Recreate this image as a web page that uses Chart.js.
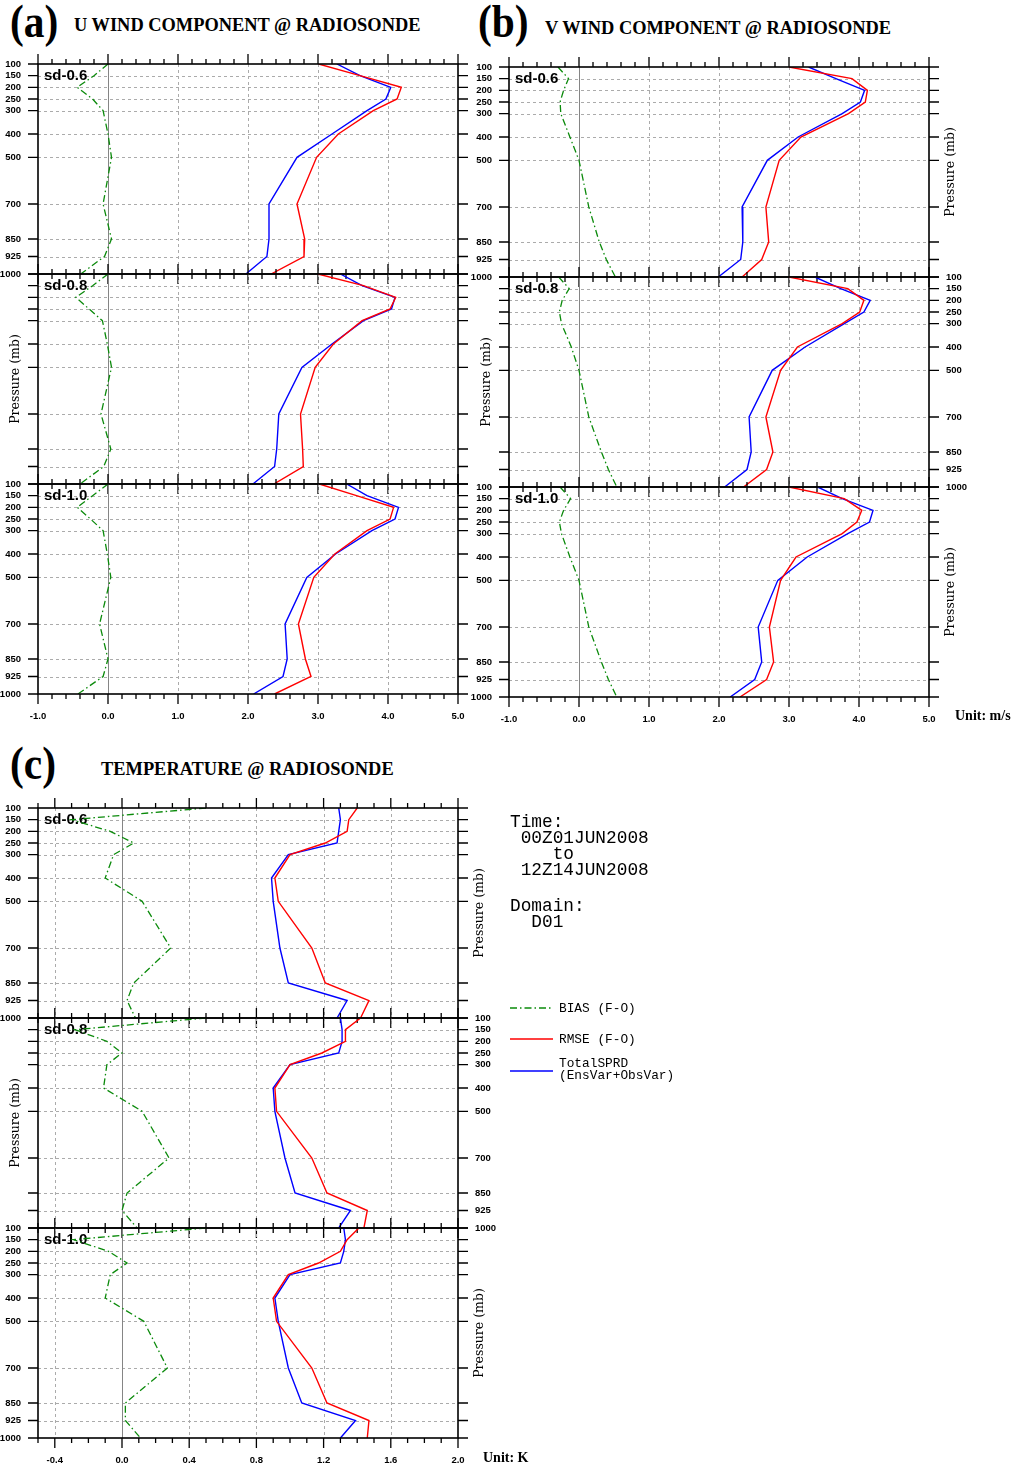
<!DOCTYPE html>
<html>
<head>
<meta charset="utf-8">
<script src="https://cdn.jsdelivr.net/npm/chart.js@4.4.0/dist/chart.umd.min.js"></script>
<style>
  html, body { margin: 0; padding: 0; background: #fff; width: 1014px; height: 1468px; overflow: hidden; position: relative; }
  canvas { position: absolute; }
  .t { position: absolute; white-space: pre; color: #000; line-height: 1; }
  svg.key { position: absolute; overflow: visible; }
</style>
</head>
<body>
<script>
// ---- pressure levels and axis labels ----
const levels = [100, 150, 200, 250, 300, 400, 500, 700, 850, 925, 1000];
const levelLabels = ['100', '150', '200', '250', '300', '400', '500', '700', '850', '925', '1000'];
const sdTags = ['sd-0.6', 'sd-0.8', 'sd-1.0'];

const windTicks = [-1, 0, 1, 2, 3, 4, 5];
const windTickLabels = ['-1.0', '0.0', '1.0', '2.0', '3.0', '4.0', '5.0'];
const tempTicks = [-0.4, 0, 0.4, 0.8, 1.2, 1.6, 2.0];
const tempTickLabels = ['-0.4', '0.0', '0.4', '0.8', '1.2', '1.6', '2.0'];

// ---- U wind (m/s) ----
const uBias06 = [0.00, -0.20, -0.44, -0.22, -0.07, 0.00, 0.05, -0.07, 0.05, -0.05, -0.39];
const uRmse06 = [3.01, 3.60, 4.19, 4.13, 3.79, 3.29, 2.98, 2.70, 2.81, 2.80, 2.33];
const uSprd06 = [3.27, 3.60, 4.04, 3.97, 3.70, 3.20, 2.70, 2.30, 2.30, 2.27, 1.97];

const uBias08 = [0.00, -0.22, -0.46, -0.27, -0.08, -0.01, 0.05, -0.10, 0.04, -0.06, -0.40];
const uRmse08 = [3.00, 3.65, 4.11, 4.03, 3.63, 3.22, 2.96, 2.75, 2.78, 2.79, 2.37];
const uSprd08 = [3.32, 3.63, 4.10, 4.05, 3.65, 3.20, 2.77, 2.44, 2.41, 2.38, 2.07];

const uBias10 = [0.00, -0.22, -0.44, -0.25, -0.07, -0.01, 0.04, -0.12, 0.00, -0.07, -0.43];
const uRmse10 = [3.02, 3.55, 4.08, 4.03, 3.70, 3.24, 2.94, 2.72, 2.82, 2.90, 2.38];
const uSprd10 = [3.41, 3.70, 4.15, 4.10, 3.77, 3.25, 2.84, 2.53, 2.56, 2.50, 2.08];

// ---- V wind (m/s) ----
const vBias06 = [-0.30, -0.15, -0.22, -0.27, -0.26, -0.13, 0.00, 0.14, 0.29, 0.39, 0.52];
const vRmse06 = [3.00, 3.90, 4.12, 4.09, 3.85, 3.17, 2.86, 2.67, 2.71, 2.61, 2.33];
const vSprd06 = [3.28, 3.67, 4.08, 4.02, 3.76, 3.13, 2.69, 2.33, 2.34, 2.31, 1.99];

const vBias08 = [-0.29, -0.14, -0.24, -0.28, -0.25, -0.11, 0.00, 0.14, 0.32, 0.42, 0.54];
const vRmse08 = [3.00, 3.84, 4.07, 4.01, 3.76, 3.12, 2.88, 2.67, 2.77, 2.68, 2.35];
const vSprd08 = [3.37, 3.74, 4.16, 4.07, 3.79, 3.23, 2.76, 2.43, 2.46, 2.40, 2.08];

const vBias10 = [-0.27, -0.12, -0.22, -0.28, -0.25, -0.13, 0.00, 0.14, 0.32, 0.42, 0.54];
const vRmse10 = [3.00, 3.79, 4.04, 3.97, 3.76, 3.10, 2.88, 2.72, 2.78, 2.68, 2.30];
const vSprd10 = [3.41, 3.76, 4.20, 4.15, 3.84, 3.26, 2.84, 2.56, 2.61, 2.51, 2.16];

// ---- Temperature (K) ----
const tBias06 = [0.50, -0.30, -0.07, 0.07, -0.05, -0.10, 0.12, 0.29, 0.07, 0.03, 0.08];
const tRmse06 = [1.40, 1.35, 1.34, 1.21, 1.00, 0.91, 0.93, 1.13, 1.21, 1.47, 1.42];
const tSprd06 = [1.29, 1.30, 1.29, 1.28, 0.99, 0.89, 0.90, 0.94, 0.99, 1.34, 1.28];

const tBias08 = [0.50, -0.28, -0.09, 0.00, -0.09, -0.11, 0.12, 0.28, 0.03, 0.00, 0.09];
const tRmse08 = [1.42, 1.33, 1.33, 1.19, 1.00, 0.91, 0.92, 1.13, 1.22, 1.46, 1.44];
const tSprd08 = [1.30, 1.31, 1.31, 1.29, 1.00, 0.90, 0.91, 0.97, 1.03, 1.36, 1.29];

const tBias10 = [0.50, -0.29, -0.08, 0.03, -0.07, -0.10, 0.13, 0.27, 0.02, 0.02, 0.11];
const tRmse10 = [1.41, 1.34, 1.30, 1.17, 0.99, 0.90, 0.92, 1.13, 1.22, 1.47, 1.46];
const tSprd10 = [1.32, 1.33, 1.32, 1.30, 1.00, 0.91, 0.93, 0.99, 1.07, 1.39, 1.30];

// ---- styling ----
const GREEN = '#0b8a0b', RED = '#ff0000', BLUE = '#0000ff';
const BIAS_DASH = [7, 3, 1.5, 3];
const SANS = '"Liberation Sans", Arial, sans-serif';
const SERIF = '"Liberation Serif", "Times New Roman", serif';
const MONO = '"Liberation Mono", "Courier New", monospace';
const PAD = { left: 40, right: 60, top: 14, bottom: 30 };

function points(vals) { return vals.map((v, i) => ({ x: v, y: levels[i] })); }

// frame, outward ticks, dashed grid, labels for one profile panel
function makeDecor(cfg) {
  return {
    id: 'decor',
    beforeDatasetsDraw(chart) {
      const { ctx, chartArea: A, scales: { x, y } } = chart;
      ctx.save();
      ctx.lineWidth = 1;
      ctx.strokeStyle = '#ababab';
      ctx.setLineDash([3, 3]);
      ctx.beginPath();
      cfg.xMajor.forEach(v => {
        if (v === 0) return;
        const px = Math.round(x.getPixelForValue(v)) + 0.5;
        if (px <= A.left + 1 || px >= A.right - 1) return;
        ctx.moveTo(px, A.top); ctx.lineTo(px, A.bottom);
      });
      levels.forEach(p => {
        const py = Math.round(y.getPixelForValue(p)) + 0.5;
        if (py <= A.top + 1 || py >= A.bottom - 1) return;
        ctx.moveTo(A.left, py); ctx.lineTo(A.right, py);
      });
      ctx.stroke();
      ctx.setLineDash([]);
      ctx.strokeStyle = '#858585';
      const zx = Math.round(x.getPixelForValue(0)) + 0.5;
      ctx.beginPath(); ctx.moveTo(zx, A.top); ctx.lineTo(zx, A.bottom); ctx.stroke();
      // panel tag
      ctx.fillStyle = '#000';
      ctx.font = 'bold 15px ' + SANS;
      ctx.textAlign = 'left';
      ctx.textBaseline = 'alphabetic';
      ctx.fillText(cfg.tag, A.left + 6, A.top + 16);
      ctx.restore();
    },
    afterDraw(chart) {
      const { ctx, chartArea: A, scales: { x, y } } = chart;
      ctx.save();
      ctx.strokeStyle = '#000';
      ctx.lineWidth = 1.6;
      ctx.strokeRect(A.left, A.top, A.right - A.left, A.bottom - A.top);
      ctx.lineWidth = 1.3;
      ctx.beginPath();
      for (let i = 0; ; i++) {
        const v = +(cfg.xMin + i * cfg.xMinorStep).toFixed(4);
        if (v > cfg.xMax + 1e-9) break;
        const major = cfg.xMajor.some(m => Math.abs(m - v) < 1e-6);
        const len = major ? 10 : 5;
        const px = x.getPixelForValue(v);
        ctx.moveTo(px, A.top); ctx.lineTo(px, A.top - len);
        ctx.moveTo(px, A.bottom); ctx.lineTo(px, A.bottom + len);
      }
      levels.forEach(p => {
        const py = y.getPixelForValue(p);
        ctx.moveTo(A.left, py); ctx.lineTo(A.left - 10, py);
        ctx.moveTo(A.right, py); ctx.lineTo(A.right + 10, py);
      });
      ctx.stroke();

      ctx.fillStyle = '#000';
      ctx.font = 'bold 9.5px ' + SANS;
      ctx.textBaseline = 'middle';
      const sideLabels = (side) => {
        ctx.textAlign = side === 'left' ? 'right' : 'left';
        const lx = side === 'left' ? A.left - 17 : A.right + 17;
        levels.forEach((p, i) => ctx.fillText(levelLabels[i], lx, y.getPixelForValue(p)));
      };
      const sideTitle = (side) => {
        ctx.save();
        ctx.font = '12.5px "DejaVu Serif", serif';
        ctx.translate(side === 'left' ? A.left - 22 : A.right + 22, (A.top + A.bottom) / 2);
        ctx.rotate(-Math.PI / 2);
        ctx.textAlign = 'center';
        ctx.textBaseline = 'middle';
        ctx.fillText('Pressure (mb)', 0, 0);
        ctx.restore();
      };
      if (cfg.left === 'labels') sideLabels('left');
      if (cfg.left === 'title') sideTitle('left');
      if (cfg.right === 'labels') sideLabels('right');
      if (cfg.right === 'title') sideTitle('right');
      if (cfg.xLabels) {
        ctx.textAlign = 'center';
        ctx.textBaseline = 'middle';
        cfg.xMajor.forEach((v, i) => ctx.fillText(cfg.xLabels[i], x.getPixelForValue(v), A.bottom + 22));
      }
      ctx.restore();
    }
  };
}

function makePanel(frame, cfg, series) {
  const c = document.createElement('canvas');
  const w = frame.w + PAD.left + PAD.right, h = frame.h + PAD.top + PAD.bottom;
  c.width = w; c.height = h;
  c.style.left = (frame.x - PAD.left) + 'px';
  c.style.top = (frame.y - PAD.top) + 'px';
  c.style.width = w + 'px'; c.style.height = h + 'px';
  document.body.appendChild(c);
  new Chart(c, {
    type: 'line',
    data: {
      datasets: [
        { label: 'BIAS (F-O)', data: points(series[0]), borderColor: GREEN, borderWidth: 1.3, borderDash: BIAS_DASH },
        { label: 'RMSE (F-O)', data: points(series[1]), borderColor: RED, borderWidth: 1.4 },
        { label: 'TotalSPRD (EnsVar+ObsVar)', data: points(series[2]), borderColor: BLUE, borderWidth: 1.4 }
      ]
    },
    options: {
      responsive: false,
      animation: false,
      devicePixelRatio: 1,
      layout: { padding: PAD },
      elements: { point: { radius: 0 }, line: { tension: 0, fill: false } },
      plugins: { legend: { display: false }, tooltip: { enabled: false } },
      scales: {
        x: { type: 'linear', display: false, min: cfg.xMin, max: cfg.xMax },
        y: { type: 'linear', display: false, min: 100, max: 1000, reverse: true }
      }
    },
    plugins: [makeDecor(cfg)]
  });
}

// ---- panel layout ----
const columns = [
  { x: 38, w: 420, h: 210, tops: [64, 274, 484], xMin: -1, xMax: 5, step: 0.2, major: windTicks, labels: windTickLabels,
    sides: [['labels', 'none'], ['title', 'none'], ['labels', 'none']],
    data: [[uBias06, uRmse06, uSprd06], [uBias08, uRmse08, uSprd08], [uBias10, uRmse10, uSprd10]] },
  { x: 509, w: 420, h: 210, tops: [67, 277, 487], xMin: -1, xMax: 5, step: 0.2, major: windTicks, labels: windTickLabels,
    sides: [['labels', 'title'], ['title', 'labels'], ['labels', 'title']],
    data: [[vBias06, vRmse06, vSprd06], [vBias08, vRmse08, vSprd08], [vBias10, vRmse10, vSprd10]] },
  { x: 38, w: 420, h: 210, tops: [808, 1018, 1228], xMin: -0.5, xMax: 2.0, step: 0.1, major: tempTicks, labels: tempTickLabels,
    sides: [['labels', 'title'], ['title', 'labels'], ['labels', 'title']],
    data: [[tBias06, tRmse06, tSprd06], [tBias08, tRmse08, tSprd08], [tBias10, tRmse10, tSprd10]] }
];

columns.forEach(col => {
  col.tops.forEach((top, k) => {
    makePanel({ x: col.x, y: top, w: col.w, h: col.h }, {
      xMin: col.xMin, xMax: col.xMax, xMinorStep: col.step, xMajor: col.major,
      xLabels: k === 2 ? col.labels : null,
      left: col.sides[k][0], right: col.sides[k][1], tag: sdTags[k]
    }, col.data[k]);
  });
});

// ---- text blocks ----
const ASC = { serif: 0.8375, sans: 0.8465, mono: 0.7665 };
function placeText(str, x, baseline, size, fam, weight, scaleX) {
  const d = document.createElement('div');
  d.className = 't';
  d.textContent = str;
  const family = fam === 'serif' ? SERIF : fam === 'mono' ? MONO : SANS;
  d.style.left = x + 'px';
  d.style.top = (baseline - ASC[fam] * size) + 'px';
  d.style.fontSize = size + 'px';
  d.style.fontFamily = family;
  d.style.fontWeight = weight || 400;
  if (scaleX) { d.style.transform = 'scaleX(' + scaleX + ')'; d.style.transformOrigin = 'left top'; }
  document.body.appendChild(d);
}

placeText('(a)', 10, 38, 46, 'serif', 700, 0.9);
placeText('U WIND COMPONENT @ RADIOSONDE', 74, 31, 18.4, 'serif', 700);
placeText('(b)', 478, 38, 46, 'serif', 700, 0.9);
placeText('V WIND COMPONENT @ RADIOSONDE', 545, 34, 18.4, 'serif', 700);
placeText('(c)', 10, 780, 46, 'serif', 700, 0.9);
placeText('TEMPERATURE @ RADIOSONDE', 101, 775, 18.4, 'serif', 700);
placeText('Unit: m/s', 955, 721, 14, 'serif', 700);
placeText('Unit: K', 483, 1463, 14, 'serif', 700);

const infoLines = [['Time:', 828], [' 00Z01JUN2008', 844], ['    to', 860], [' 12Z14JUN2008', 876], ['Domain:', 912], ['  D01', 928]];
infoLines.forEach(([s, b]) => placeText(s, 510, b, 17.8, 'mono', 400));

// legend keys
const keys = [
  { color: GREEN, dash: BIAS_DASH, y: 1008, text: [['BIAS (F-O)', 1013]] },
  { color: RED, dash: null, y: 1039, text: [['RMSE (F-O)', 1044]] },
  { color: BLUE, dash: null, y: 1071, text: [['TotalSPRD', 1068], ['(EnsVar+ObsVar)', 1080]] }
];
keys.forEach(k => {
  const ns = 'http://www.w3.org/2000/svg';
  const svg = document.createElementNS(ns, 'svg');
  svg.setAttribute('class', 'key');
  svg.setAttribute('width', '44'); svg.setAttribute('height', '4');
  svg.style.left = '510px'; svg.style.top = (k.y - 2) + 'px';
  const ln = document.createElementNS(ns, 'line');
  ln.setAttribute('x1', '0'); ln.setAttribute('y1', '2'); ln.setAttribute('x2', '43'); ln.setAttribute('y2', '2');
  ln.setAttribute('stroke', k.color); ln.setAttribute('stroke-width', '1.4');
  if (k.dash) ln.setAttribute('stroke-dasharray', k.dash.join(' '));
  svg.appendChild(ln);
  document.body.appendChild(svg);
  k.text.forEach(([s, b]) => placeText(s, 559, b, 12.8, 'mono', 400));
});
</script>
</body>
</html>
